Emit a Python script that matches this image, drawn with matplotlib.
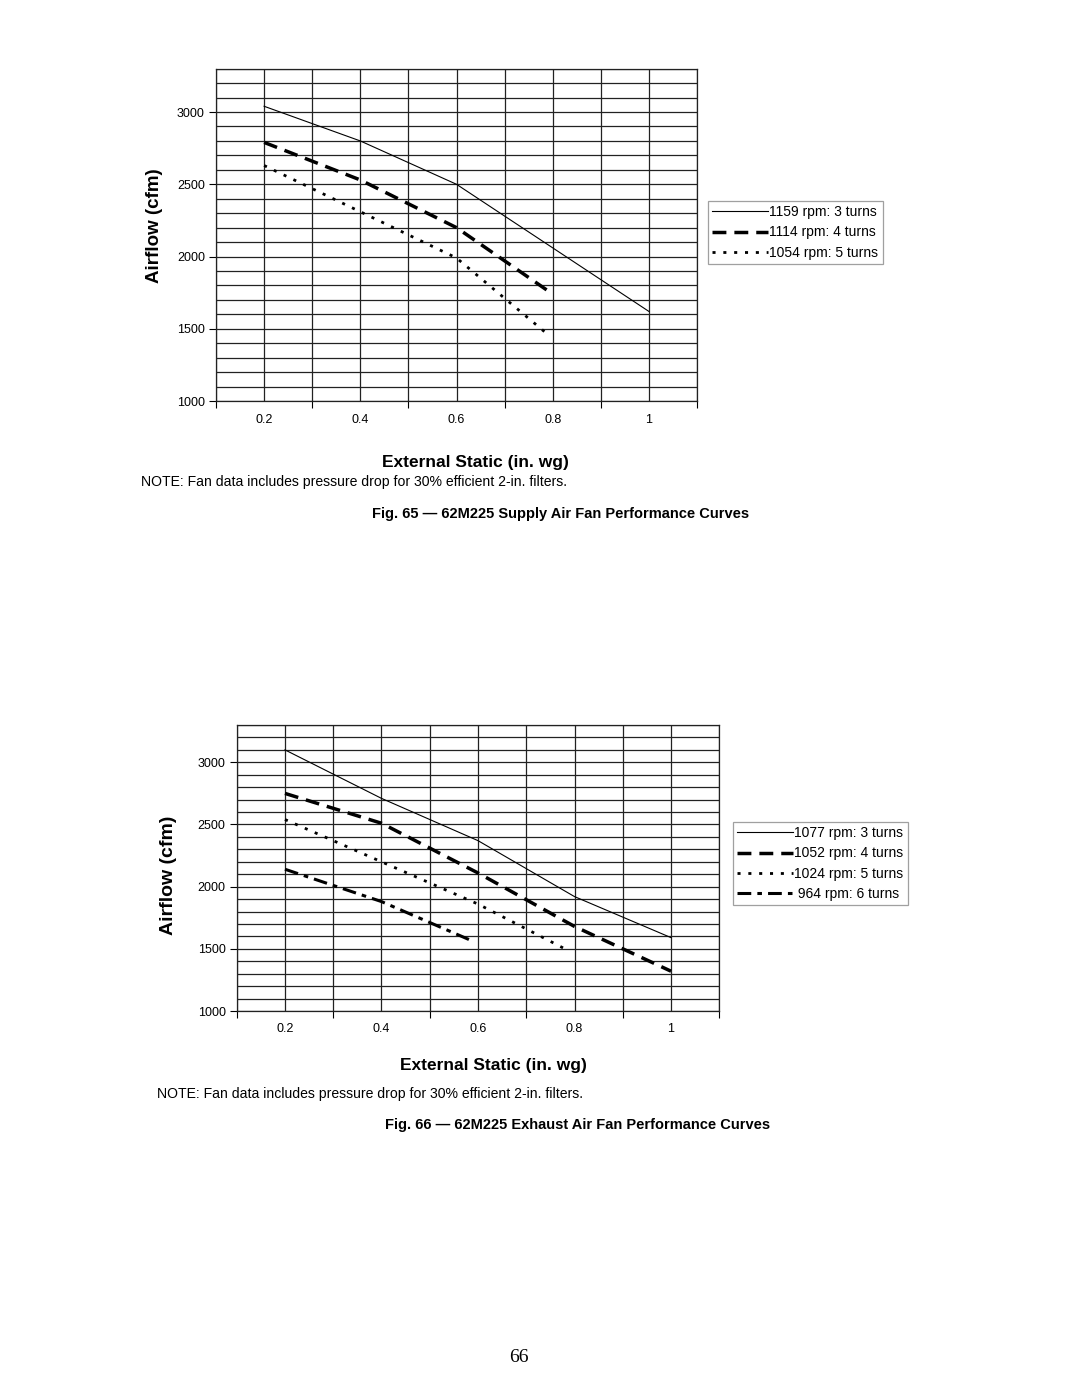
import matplotlib
matplotlib.use("Agg")
import matplotlib.pyplot as plt
import numpy as np

plt.rcParams['font.family'] = ['Liberation Sans', 'DejaVu Sans']

# Fig. 65 supply fan curves
sup_x_1159 = [0.2, 0.4, 0.6, 0.8, 1.0]
sup_y_1159 = [3040, 2800, 2500, 2060, 1620]
sup_x_1114 = [0.2, 0.4, 0.6, 0.8]
sup_y_1114 = [2790, 2530, 2200, 1740]
sup_x_1054 = [0.2, 0.4, 0.6, 0.79]
sup_y_1054 = [2630, 2310, 1990, 1460]
sup_labels = ["1159 rpm: 3 turns", "1114 rpm: 4 turns", "1054 rpm: 5 turns"]

# Fig. 66 exhaust fan curves
exh_x_1077 = [0.2, 0.4, 0.6, 0.8, 1.0]
exh_y_1077 = [3100, 2710, 2370, 1920, 1590]
exh_x_1052 = [0.2, 0.4, 0.6, 0.8, 1.0]
exh_y_1052 = [2750, 2510, 2110, 1680, 1320]
exh_x_1024 = [0.2, 0.4, 0.6, 0.79]
exh_y_1024 = [2540, 2200, 1860, 1480]
exh_x_964 = [0.2, 0.4, 0.59]
exh_y_964 = [2140, 1880, 1560]
exh_labels = ["1077 rpm: 3 turns", "1052 rpm: 4 turns", "1024 rpm: 5 turns", " 964 rpm: 6 turns"]

x_ticks = [0.2, 0.4, 0.6, 0.8, 1.0]
x_tick_labels = ["0.2", "0.4", "0.6", "0.8", "1"]
y_ticks = [1000, 1500, 2000, 2500, 3000]

styles = [
    dict(color='black', lw=0.8, linestyle='-'),
    dict(color='black', lw=2.5, linestyle=(0, (4, 2.3))),
    dict(color='black', lw=2.0, linestyle=(0, (1.1, 2.8))),
    dict(color='black', lw=2.2, linestyle=(0, (4.5, 2, 1.5, 2))),
]

fig = plt.figure(figsize=(10.8, 13.97), dpi=100)
W, H = 1080, 1397


def setup(ax):
    ax.set_xlim(0.1, 1.1)
    ax.set_ylim(1000, 3300)
    ax.set_xticks(x_ticks)
    ax.set_xticklabels(x_tick_labels, fontsize=9)
    ax.set_xticks(np.round(np.arange(0.1, 1.15, 0.2), 2), minor=True)
    ax.set_yticks(y_ticks)
    ax.set_yticklabels([str(v) for v in y_ticks], fontsize=9)
    ax.tick_params(axis='x', which='major', length=0, pad=9)
    ax.tick_params(axis='x', which='minor', length=5, direction='out', width=0.8)
    ax.tick_params(axis='y', which='major', length=5, direction='out', width=0.8, pad=3)
    for xv in np.arange(0.1, 1.15, 0.1):
        ax.axvline(xv, color='#222222', lw=0.9, zorder=1)
    for yv in range(1000, 3301, 100):
        ax.axhline(yv, color='#222222', lw=0.9, zorder=1)
    for s in ax.spines.values():
        s.set_color('#222222')
        s.set_linewidth(0.9)


def axes_px(l, t, r, b):
    return fig.add_axes([l / W, 1 - b / H, (r - l) / W, (b - t) / H])


def add_legend(handles, labels, x, y):
    lg = fig.legend(handles, labels, loc='upper left', bbox_to_anchor=(x / W, 1 - y / H),
                    fontsize=10, frameon=True, fancybox=False, edgecolor='#888888',
                    handlelength=4.0, handletextpad=0.12, borderpad=0.3, labelspacing=0.45,
                    borderaxespad=0)
    lg.get_frame().set_linewidth(0.9)
    return lg


note = "NOTE: Fan data includes pressure drop for 30% efficient 2-in. filters."

# ---- top chart ----
ax1 = axes_px(216, 68.7, 697, 401)
setup(ax1)
h = []
h += ax1.plot(sup_x_1159, sup_y_1159, **styles[0], zorder=3)
h += ax1.plot(sup_x_1114, sup_y_1114, **styles[1], zorder=3)
h += ax1.plot(sup_x_1054, sup_y_1054, **styles[2], zorder=3)
ax1.set_xlabel("External Static (in. wg)", fontsize=12.5, fontweight='bold')
ax1.set_ylabel("Airflow (cfm)", fontsize=13.5, fontweight='bold')
ax1.yaxis.set_label_coords(-0.11, 0.527)
ax1.xaxis.set_label_coords(0.54, -0.163)
add_legend(h, sup_labels, 708, 201)
fig.text(141 / W, 1 - 482 / H, note, fontsize=10.1, va='center', ha='left')
fig.text(372 / W, 1 - 514 / H, "Fig. 65 \u2014 62M225 Supply Air Fan Performance Curves",
         fontsize=10.5, fontweight='bold', va='center', ha='left')

# ---- bottom chart ----
ax2 = axes_px(236.7, 725, 719.3, 1011)
setup(ax2)
h2 = []
h2 += ax2.plot(exh_x_1077, exh_y_1077, **styles[0], zorder=3)
h2 += ax2.plot(exh_x_1052, exh_y_1052, **styles[1], zorder=3)
h2 += ax2.plot(exh_x_1024, exh_y_1024, **styles[2], zorder=3)
h2 += ax2.plot(exh_x_964, exh_y_964, **styles[3], zorder=3)
ax2.set_xlabel("External Static (in. wg)", fontsize=12.5, fontweight='bold')
ax2.set_ylabel("Airflow (cfm)", fontsize=14, fontweight='bold')
ax2.yaxis.set_label_coords(-0.123, 0.4755)
ax2.xaxis.set_label_coords(0.531, -0.164)
add_legend(h2, exh_labels, 733, 822)
fig.text(157 / W, 1 - 1094 / H, note, fontsize=10.1, va='center', ha='left')
fig.text(385 / W, 1 - 1125 / H, "Fig. 66 \u2014 62M225 Exhaust Air Fan Performance Curves",
         fontsize=10.5, fontweight='bold', va='center', ha='left')

fig.text(519 / W, 1 - 1357 / H, "66", fontsize=14, family=['Liberation Serif', 'DejaVu Serif'],
         va='center', ha='center')

fig.savefig("out.png", dpi=100)
